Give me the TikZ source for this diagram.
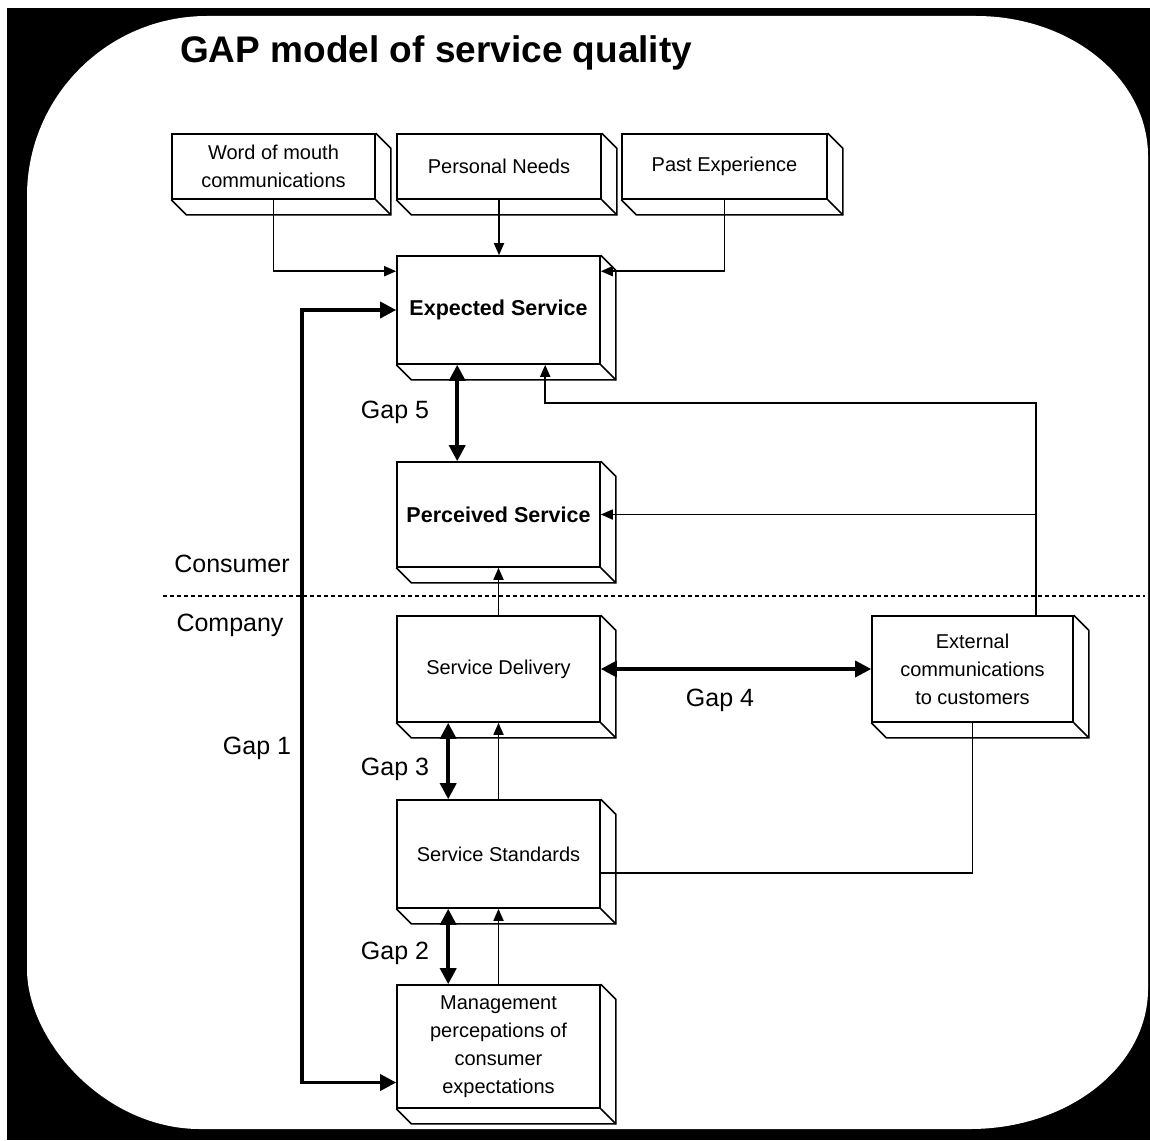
\documentclass[tikz,border=0pt]{standalone}
\usepackage{fontspec}
\setmainfont{Liberation Sans}
\usetikzlibrary{arrows.meta,calc}
\begin{document}
\begin{tikzpicture}[x=1pt,y=-1pt,
  box/.style={draw, line width=1.6pt, fill=white, align=center, inner sep=2pt,
              minimum width=203pt, font=\fontsize{20}{28}\selectfont},
  depth/.style={line width=1.6pt, line join=miter},
  thinarrow/.style={line width=1.7pt, -{Triangle[length=12pt,width=10pt]}},
  thinline/.style={line width=1.7pt},
  gaparrow/.style={line width=3.5pt, line join=miter,
     {Triangle[length=16pt,width=16pt]}-{Triangle[length=16pt,width=16pt]}},
  gaplabel/.style={font=\fontsize{25}{30}\selectfont, inner sep=0pt, anchor=base},
  divider/.style={line width=1.2pt, dash pattern=on 4pt off 3pt},
  boldtext/.style={font=\fontsize{21.5}{28}\selectfont\bfseries},
]
% background
\useasboundingbox (0,0) rectangle (1150,1140);
\fill[white] (0,0) rectangle (1150,1140);
\fill[black] (7,8) rectangle (1150,1140);
\fill[white] (207,16) -- (976,16)
  .. controls (1071,16) and (1148,78.7) .. (1148,156)
  -- (1148,989)
  .. controls (1148,1066.3) and (1068.3,1129) .. (970,1129)
  -- (200,1129)
  .. controls (104.5,1129) and (27,1040.4) .. (27,969)
  -- (27,196)
  .. controls (27,96.6) and (107.6,16) .. cycle;

% title
\node[anchor=base west, inner sep=0pt, font=\fontsize{37}{40}\selectfont\bfseries]
  (title) at (180,63) {GAP model of service quality};

% boxes
\node[box, minimum height=65pt]  (wom) at (273.5,166.5) {Word of mouth\\communications};
\node[box, minimum height=65pt, minimum width=204pt] (pn) at (499,166.5) {Personal Needs};
\node[box, minimum height=65pt, minimum width=205pt] (pe) at (724.5,166.5) {Past Experience};
\node[box, boldtext, minimum height=108pt] (es) at (498.5,310) {Expected Service};
\node[box, boldtext, minimum height=105pt] (ps) at (498.5,514.5) {Perceived Service};
\node[box, minimum height=106pt] (sd) at (498.5,669) {Service Delivery};
\node[box, minimum height=106pt, minimum width=201pt] (ext) at (972.5,669) {External\\communications\\to customers};
\node[box, minimum height=108pt] (ss) at (498.5,854) {Service Standards};
\node[box, minimum height=123pt] (mg) at (498.5,1046.5) {Management\\percepations of\\consumer\\expectations};

\foreach \n in {wom,pn,pe,es,ps,sd,ext,ss,mg}{
  \draw[depth] (\n.south west) -- ++(15,15) -| ($(\n.north east)+(15,15)$) -- (\n.north east);
  \draw[depth] (\n.south east) -- ++(15,15);
}

% helper coordinates
\coordinate (esL1) at ($(es.north west)+(0,16)$);
\coordinate (esR1) at ($(es.north east)+(0,16)$);
\coordinate (g1x) at (302,0);
\coordinate (mgL) at ($(mg.west)+(0,36)$);
\coordinate (g5) at ($(es.south west)+(61,0)$);
\coordinate (extT) at ($(ext.north west)+(165,0)$);
\coordinate (esB) at ($(es.south west)+(149,0)$);
\coordinate (turn) at ($(esB)+(0,38)$);
\coordinate (g3) at ($(sd.south west)+(52,0)$);
\coordinate (g2) at ($(ss.south west)+(52,0)$);
\coordinate (ssR) at ($(ss.east)+(0,19)$);
\coordinate (dl) at (163,596);
\coordinate (dr) at (1145,596);

% connectors
\draw[thinarrow] (wom.south) |- (esL1);
\draw[thinarrow] (pn.south) -- (pn.south |- es.north);
\draw[thinarrow] (pe.south) |- (esR1);
\draw[gaparrow] (es.west) -- (es.west -| g1x) |- (mgL);
\draw[gaparrow] (g5) -- (g5 |- ps.north);
\draw[thinarrow] (extT) |- (turn) -- (esB);
\draw[thinarrow] (ps.east -| extT) -- (ps.east);
\draw[thinarrow] (sd.north) -- (ps.south);
\draw[gaparrow] (sd.east) -- (ext.west);
\draw[gaparrow] (g3) -- (g3 |- ss.north);
\draw[thinarrow] (ss.north) -- (sd.south);
\draw[thinline] (ext.south) |- (ssR);
\draw[gaparrow] (g2) -- (g2 |- mg.north);
\draw[thinarrow] (mg.north) -- (ss.south);
\draw[divider] (dl) -- (dr);

% labels
\node[gaplabel] (l5) at (395,418) {Gap 5};
\node[gaplabel] (l4) at (720,706) {Gap 4};
\node[gaplabel] (l3) at (395,775) {Gap 3};
\node[gaplabel] (l2) at (395,959) {Gap 2};
\node[gaplabel] (l1) at (257,754) {Gap 1};
\node[gaplabel] (lcons) at (232,572) {Consumer};
\node[gaplabel] (lcomp) at (230,631) {Company};
\end{tikzpicture}
\end{document}
